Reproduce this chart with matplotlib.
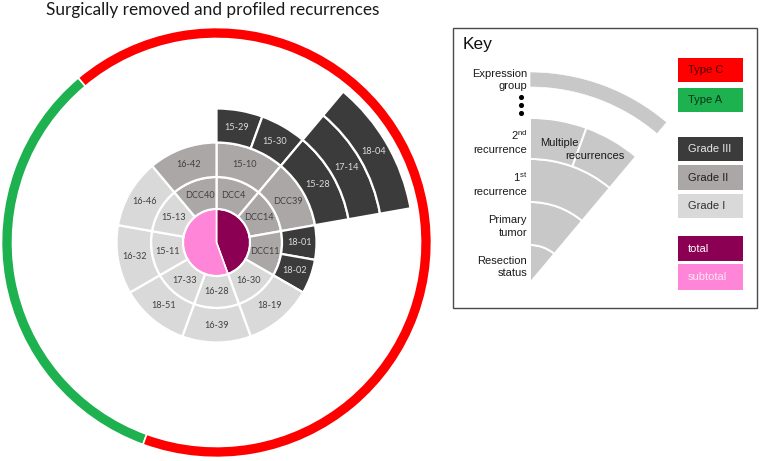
import numpy as np
import matplotlib
matplotlib.use("Agg")
import matplotlib.pyplot as plt
from matplotlib.patches import Rectangle

plt.rcParams["mathtext.fontset"] = "custom"
plt.rcParams["mathtext.rm"] = "Liberation Sans"
plt.rcParams["mathtext.it"] = "Liberation Sans"

# ============================================================
# DATA
# ============================================================

# centre: resection status (number of primary tumors in each group)
center_labels = ["total", "subtotal"]
center_sizes = [4, 5]

# ring 1: primary tumors (one unit each), clockwise from 12 o'clock
primary_labels = ["DCC4", "DCC14", "DCC11", "16-30", "16-28",
                  "17-33", "15-11", "15-13", "DCC40"]
primary_grade = [2, 2, 2, 1, 1, 1, 1, 1, 2]
primary_expr = ["Type C", "Type C", "Type C", "Type C", "Type C",
                "Type A", "Type A", "Type A", "Type C"]

# ring 2: 1st recurrence
first_labels = ["15-10", "DCC39", "18-01", "18-02", "18-19",
                "16-39", "18-51", "16-32", "16-46", "16-42"]
first_span = [1, 1, 0.5, 0.5, 1, 1, 1, 1, 1, 1]
first_grade = [2, 2, 3, 3, 1, 1, 1, 1, 1, 2]

# ring 3..5: later recurrences
second_labels = ["15-29", "15-30", "15-28"]
second_start = [0, 0.5, 1]
second_span = [0.5, 0.5, 1]
second_grade = [3, 3, 3]

third_labels = ["17-14"]
third_start = [1]
third_span = [1]
third_grade = [3]

fourth_labels = ["18-04"]
fourth_start = [1]
fourth_span = [1]
fourth_grade = [3]

# key
key_levels = ["Resection\nstatus", "Primary\ntumor",
              "1$^{\\rm st}$\nrecurrence", "2$^{\\rm nd}$\nrecurrence"]
legend_labels = ["Type C", "Type A", "Grade III", "Grade II", "Grade I",
                 "total", "subtotal"]

# ============================================================
# STYLE
# ============================================================

W, H = 762, 461
N_UNITS = len(primary_labels)
UNIT = 2 * np.pi / N_UNITS

GRADE_COLOR = {1: "#d9d9d9", 2: "#aba7a7", 3: "#3b3b3b"}
GRADE_TEXT = {1: "#404040", 2: "#404040", 3: "#dcdcdc"}
EXPR_COLOR = {"Type C": "#ff0000", "Type A": "#1db14f"}
CENTER_COLOR = {"total": "#8b0052", "subtotal": "#ff85d8"}
KEY_GREY = "#c8c8c8"

legend_face = ["#ff0000", "#1db14f", "#3b3b3b", "#aba7a7", "#d9d9d9",
               "#8b0052", "#ff85d8"]
legend_text = ["#4a0000", "#0b3318", "#e8e8e8", "#202020", "#303030",
               "#ffffff", "#ffe6f7"]
legend_y = [58, 88, 137, 165, 194, 236, 264]
legend_h = [24, 24, 24, 25, 24, 25, 26]

LABEL_FONT = "Lato"
KEY_FONT = "Liberation Sans"

fig = plt.figure(figsize=(W / 100, H / 100), dpi=100)


def polar_axes(cx, cy, R):
    ax = fig.add_axes([(cx - R) / W, (H - cy - R) / H, 2 * R / W, 2 * R / H],
                      projection="polar")
    ax.set_theta_zero_location("N")
    ax.set_theta_direction(-1)
    ax.set_ylim(0, R)
    ax.axis("off")
    return ax


def ring(ax, starts, spans, colors, r0, r1, labels=None, tcolors=None,
         lw=1.6, fs=6.6):
    starts = np.asarray(starts, float)
    spans = np.asarray(spans, float)
    theta = (starts + spans / 2) * UNIT
    ax.bar(theta, r1 - r0, width=spans * UNIT, bottom=r0, color=colors,
           edgecolor="white", linewidth=lw, align="center")
    if labels is not None:
        for t, lab, tc in zip(theta, labels, tcolors):
            ax.text(t, (r0 + r1) / 2, lab, ha="center", va="center",
                    fontsize=fs, color=tc, family=LABEL_FONT)


# ============================================================
# SUNBURST
# ============================================================

R = 216
ax = polar_axes(216.5, 242.5, R)

radii = [(0, 33.5), (33.5, 65.5), (65.5, 100), (100, 134), (134, 166),
         (166, 197)]

# centre
c_start = np.concatenate([[0], np.cumsum(center_sizes)[:-1]])
ring(ax, c_start, center_sizes, [CENTER_COLOR[c] for c in center_labels],
     *radii[0], lw=1.2)

# primary tumors
ring(ax, np.arange(N_UNITS), np.ones(N_UNITS),
     [GRADE_COLOR[g] for g in primary_grade], *radii[1],
     labels=primary_labels, tcolors=[GRADE_TEXT[g] for g in primary_grade])

# first recurrence
f_start = np.concatenate([[0], np.cumsum(first_span)[:-1]])
ring(ax, f_start, first_span, [GRADE_COLOR[g] for g in first_grade],
     *radii[2], labels=first_labels,
     tcolors=[GRADE_TEXT[g] for g in first_grade])

for labs, st, sp, gr, rr in [
        (second_labels, second_start, second_span, second_grade, radii[3]),
        (third_labels, third_start, third_span, third_grade, radii[4]),
        (fourth_labels, fourth_start, fourth_span, fourth_grade, radii[5])]:
    ring(ax, st, sp, [GRADE_COLOR[g] for g in gr], *rr, labels=labs,
         tcolors=[GRADE_TEXT[g] for g in gr])

# expression group ring: merge consecutive primaries (wrapping round)
shift = next(i for i in range(N_UNITS)
             if primary_expr[i] != primary_expr[i - 1])
runs = []
for k in range(N_UNITS):
    i = (shift + k) % N_UNITS
    if runs and runs[-1][0] == primary_expr[i]:
        runs[-1][2] += 1
    else:
        runs.append([primary_expr[i], shift + k, 1])
ring(ax, [r[1] for r in runs], [r[2] for r in runs],
     [EXPR_COLOR[r[0]] for r in runs], 204, 215, lw=1.2)

# ============================================================
# KEY FAN
# ============================================================

KR = 215
kax = polar_axes(530, 283, KR)
key_radii = [(0, 38), (38, 81), (81, 124), (124, 165)]
for r0, r1 in key_radii[:3]:
    ring(kax, [0], [1], [KEY_GREY], r0, r1, lw=1.4)
ring(kax, [0, 0.5], [0.5, 0.5], [KEY_GREY, KEY_GREY], *key_radii[3], lw=1.4)
ring(kax, [0], [1.01], [KEY_GREY], 196, 211, lw=0.5)

# ============================================================
# OVERLAY: title, key box, labels, legend
# ============================================================

ov = fig.add_axes([0, 0, 1, 1])
ov.set_xlim(0, W)
ov.set_ylim(H, 0)
ov.axis("off")

ov.text(213, 10, "Surgically removed and profiled recurrences",
        ha="center", va="center", fontsize=12.4, color="#1a1a1a",
        family=LABEL_FONT)

ov.add_patch(Rectangle((453, 28), 304, 280, facecolor="none",
                       edgecolor="#4a4a4a", linewidth=1.0))
ov.text(463, 45, "Key", ha="left", va="center", fontsize=12.5,
        color="#111111", family=KEY_FONT)

for lab, (r0, r1) in zip(key_levels, key_radii):
    ov.text(527, 283 - (r0 + r1) / 2 + 3, lab, ha="right", va="center",
            multialignment="right", fontsize=8, color="#1a1a1a",
            family=KEY_FONT, linespacing=1.3)
ov.text(527, 80, "Expression\ngroup", ha="right", va="center",
        multialignment="right", fontsize=8, color="#1a1a1a",
        family=KEY_FONT, linespacing=1.3)
ov.scatter([521, 521, 521], [97, 105, 113], s=7, color="black")

ov.text(540, 143, "Multiple", ha="left", va="center", fontsize=8,
        color="#1a1a1a", family=KEY_FONT)
ov.text(565, 156, "recurrences", ha="left", va="center", fontsize=8,
        color="#1a1a1a", family=KEY_FONT)

for lab, fc, tc, y, h in zip(legend_labels, legend_face, legend_text,
                             legend_y, legend_h):
    ov.add_patch(Rectangle((678, y), 65, h, facecolor=fc, edgecolor="none"))
    ov.text(688, y + h / 2, lab, ha="left", va="center", fontsize=8,
            color=tc, family=KEY_FONT)

fig.savefig("out.png", dpi=100)
